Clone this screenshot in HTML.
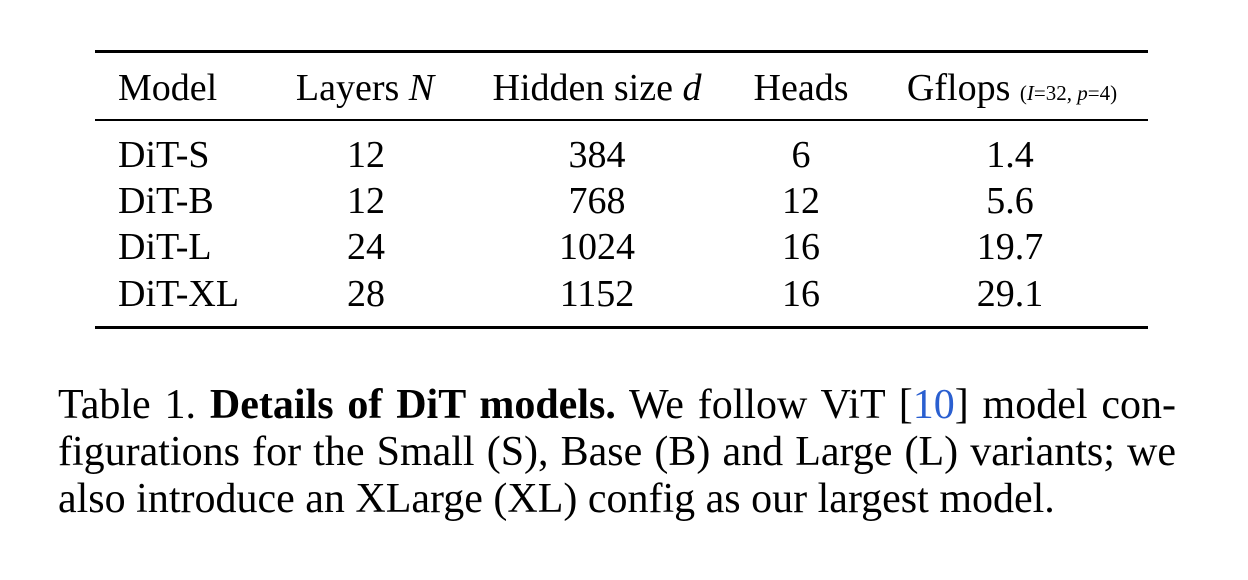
<!DOCTYPE html>
<html><head><meta charset="utf-8"><style>
body{margin:0;width:1248px;height:580px;background:#fff;font-family:"Liberation Serif",serif;color:#000;position:relative;overflow:hidden}
.r{position:absolute;left:95px;width:1053px;background:#000}
.t{position:absolute;font-size:38px;line-height:1;white-space:nowrap}
.c{transform:translateX(-50%)}
.cap{position:absolute;left:58px;width:1118px;font-size:42px;line-height:1;white-space:nowrap}
.j{text-align:justify;text-align-last:justify;white-space:normal}
.blue{color:#2a5fd0}
</style></head><body>
<div class="r" style="top:50px;height:3px"></div>
<div class="r" style="top:119px;height:2px"></div>
<div class="r" style="top:326px;height:3px"></div>

<div>
<span class="t" style="left:118px;top:69px">Model</span>
<span class="t c" style="left:365px;top:69px">Layers <i>N</i></span>
<span class="t c" style="left:597px;top:69px">Hidden size <i>d</i></span>
<span class="t c" style="left:801px;top:69px">Heads</span>
<span class="t c" style="left:1012px;top:69px">Gflops <span style="font-size:21px">(<i>I</i>=32, <i>p</i>=4)</span></span>
</div>

<div>
<span class="t" style="left:118px;top:136px">DiT-S</span>
<span class="t c" style="left:366px;top:136px">12</span>
<span class="t c" style="left:597px;top:136px">384</span>
<span class="t c" style="left:801px;top:136px">6</span>
<span class="t c" style="left:1010px;top:136px">1.4</span>
</div>
<div>
<span class="t" style="left:118px;top:182px">DiT-B</span>
<span class="t c" style="left:366px;top:182px">12</span>
<span class="t c" style="left:597px;top:182px">768</span>
<span class="t c" style="left:801px;top:182px">12</span>
<span class="t c" style="left:1010px;top:182px">5.6</span>
</div>
<div>
<span class="t" style="left:118px;top:228px">DiT-L</span>
<span class="t c" style="left:366px;top:228px">24</span>
<span class="t c" style="left:597px;top:228px">1024</span>
<span class="t c" style="left:801px;top:228px">16</span>
<span class="t c" style="left:1010px;top:228px">19.7</span>
</div>
<div>
<span class="t" style="left:118px;top:275px">DiT-XL</span>
<span class="t c" style="left:366px;top:275px">28</span>
<span class="t c" style="left:597px;top:275px">1152</span>
<span class="t c" style="left:801px;top:275px">16</span>
<span class="t c" style="left:1010px;top:275px">29.1</span>
</div>

<div>
<div class="cap j" style="top:384px">Table 1. <b>Details of DiT models.</b> We follow ViT [<span class="blue">10</span>] model con-</div>
<div class="cap j" style="top:431px">figurations for the Small (S), Base (B) and Large (L) variants; we</div>
<div class="cap" style="top:478px">also introduce an XLarge (XL) config as our largest model.</div>
</div>
</body></html>
